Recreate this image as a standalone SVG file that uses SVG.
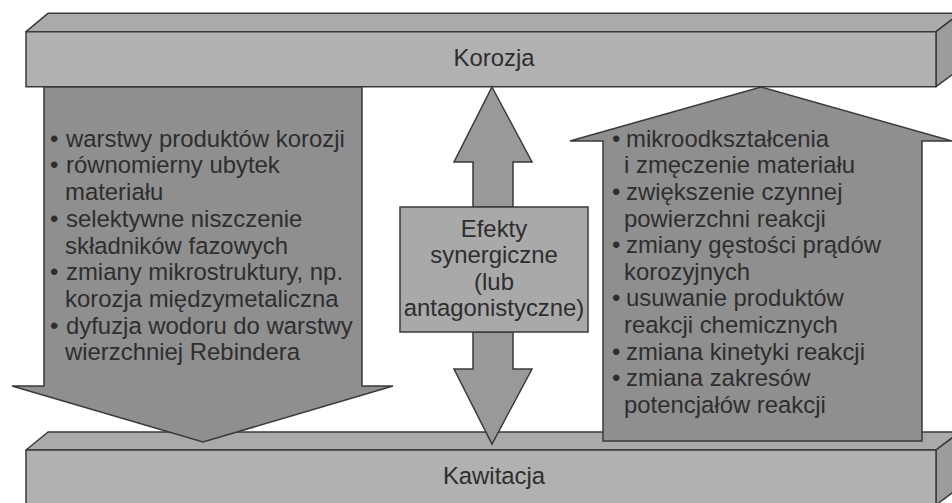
<svg xmlns="http://www.w3.org/2000/svg" width="952" height="503" viewBox="0 0 952 503">
<style>
.face{fill:#b1b1b1;stroke:#3a3a3a;stroke-width:1.5;stroke-linejoin:round}
.top{fill:#aaaaaa;stroke:#3a3a3a;stroke-width:1.5;stroke-linejoin:round}
.side{fill:#9c9c9c;stroke:#3a3a3a;stroke-width:1.5;stroke-linejoin:round}
.arrow{fill:#8f8f8f;stroke:#3a3a3a;stroke-width:1.5;stroke-linejoin:miter}
.mid{fill:#999999;stroke:#3a3a3a;stroke-width:1.5}
.box{fill:#a9a9a9;stroke:#3a3a3a;stroke-width:1.5}
text{font-family:"Liberation Sans",Arial,sans-serif;font-size:23.9px;fill:#2e2e2e}
.c{text-anchor:middle}
</style>
<rect width="952" height="503" fill="#ffffff"/>
<g id="korozja">
<polygon class="top" points="26,31.7 48,13.3 960,13.3 936,31.7"/>
<polygon class="side" points="936,31.7 960,13.3 960,69 936,86.7"/>
<rect class="face" x="26" y="31.7" width="910" height="55"/>
<text class="c" x="494" y="66">Korozja</text>
</g>
<g id="kawitacja">
<polygon class="top" points="26,450 48,432 960,432 936,450"/>
<polygon class="side" points="936,450 960,432 960,487 936,505"/>
<rect class="face" x="26" y="450" width="910" height="55"/>
<text class="c" x="494" y="484">Kawitacja</text>
</g>
<g id="connectors">
<polygon id="arrow-down-left" class="arrow" points="44,87 362,87 362,386 393,386 203,442 12,386 44,386"/>
<polygon id="arrow-up-right" class="arrow" points="761,87 952,141 922,141 922,441 603,441 603,141 570,141"/>
<polygon id="arrow-mid-up" class="mid" points="492,87 532,162 513,162 513,207 473,207 473,162 454,162"/>
<polygon id="arrow-mid-down" class="mid" points="473,332 513,332 513,369 532,369 492,444 454,369 473,369"/>
</g>
<g id="left-list">
<text><tspan x="50" y="146.7">•</tspan><tspan x="66">warstwy produktów korozji</tspan></text>
<text><tspan x="50" y="173.4">•</tspan><tspan x="66">równomierny ubytek</tspan></text>
<text x="65" y="200.1">materiału</text>
<text><tspan x="50" y="226.8">•</tspan><tspan x="66">selektywne niszczenie</tspan></text>
<text x="65" y="253.5">składników fazowych</text>
<text><tspan x="50" y="280.2">•</tspan><tspan x="66">zmiany mikrostruktury, np.</tspan></text>
<text x="65" y="306.9">korozja międzymetaliczna</text>
<text><tspan x="50" y="333.6">•</tspan><tspan x="66">dyfuzja wodoru do warstwy</tspan></text>
<text x="65" y="360.3">wierzchniej Rebindera</text>
</g>
<g id="right-list">
<text><tspan x="612" y="146.7">•</tspan><tspan x="626">mikroodkształcenia</tspan></text>
<text x="624" y="173.3">i zmęczenie materiału</text>
<text><tspan x="612" y="199.9">•</tspan><tspan x="626">zwiększenie czynnej</tspan></text>
<text x="624" y="226.5">powierzchni reakcji</text>
<text><tspan x="612" y="253.1">•</tspan><tspan x="626">zmiany gęstości prądów</tspan></text>
<text x="624" y="279.7">korozyjnych</text>
<text><tspan x="612" y="306.3">•</tspan><tspan x="626">usuwanie produktów</tspan></text>
<text x="624" y="332.9">reakcji chemicznych</text>
<text><tspan x="612" y="359.5">•</tspan><tspan x="626">zmiana kinetyki reakcji</tspan></text>
<text><tspan x="612" y="386.1">•</tspan><tspan x="626">zmiana zakresów</tspan></text>
<text x="624" y="412.7">potencjałów reakcji</text>
</g>
<g id="efekty">
<rect class="box" x="400" y="207" width="188" height="125"/>
<text class="c" x="494" y="236.7">Efekty</text>
<text class="c" x="494" y="263.2">synergiczne</text>
<text class="c" x="494" y="289.7">(lub</text>
<text class="c" x="494" y="316.2">antagonistyczne)</text>
</g>
</svg>
